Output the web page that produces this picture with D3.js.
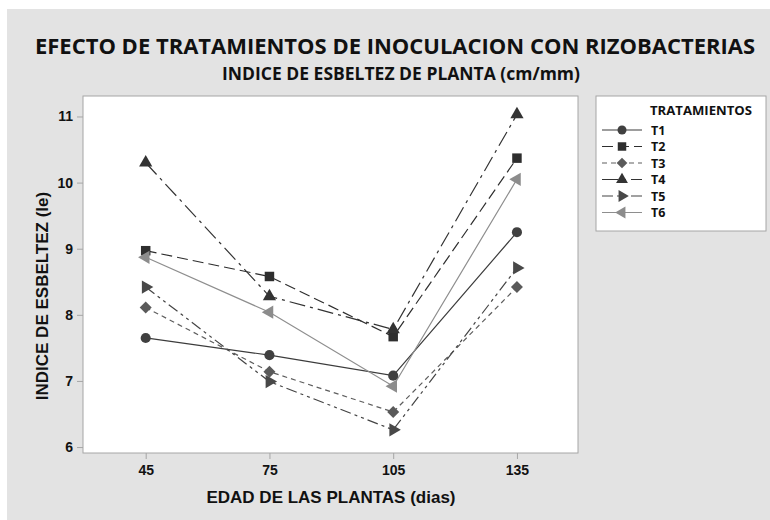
<!DOCTYPE html>
<html>
<head>
<meta charset="utf-8">
<script src="https://cdn.jsdelivr.net/npm/d3@7"></script>
<style>
  body { margin: 0; background: #fff; }
  svg { display: block; }
</style>
</head>
<body>
<div id="chart"></div>
<script>
// chart values
const ages = [45, 75, 105, 135];
const xTicks = [45, 75, 105, 135];
const yTicks = [6, 7, 8, 9, 10, 11];
const seriesNames = ["T1", "T2", "T3", "T4", "T5", "T6"];
const T1 = [7.65, 7.39, 7.08, 9.25];
const T2 = [8.97, 8.58, 7.67, 10.37];
const T3 = [8.11, 7.14, 6.53, 8.42];
const T4 = [10.30, 8.28, 7.78, 11.03];
const T5 = [8.42, 6.99, 6.26, 8.71];
const T6 = [8.87, 8.04, 6.92, 10.05];
const seriesValues = [T1, T2, T3, T4, T5, T6];

const W = 770, H = 520;
const plot = {left: 83, right: 578, top: 96, bottom: 453};

// one look per treatment: colour, dash and marker
const styles = [
  {line: "#3c3c3c", mark: "#404040", dash: null,           sym: d3.symbolCircle,   size: 80, rot: 0},
  {line: "#2e2e2e", mark: "#2e2e2e", dash: "11,5",         sym: d3.symbolSquare,   size: 90, rot: 0},
  {line: "#5e5e5e", mark: "#5a5a5a", dash: "5,4",          sym: d3.symbolSquare,   size: 72, rot: 45},
  {line: "#333333", mark: "#333333", dash: "16,5,3,5",     sym: d3.symbolTriangle, size: 76, rot: 0},
  {line: "#444444", mark: "#484848", dash: "11,4,3,4,3,4", sym: d3.symbolTriangle, size: 76, rot: 90},
  {line: "#8e8e8e", mark: "#8c8c8c", dash: null,           sym: d3.symbolTriangle, size: 76, rot: -90}
];

const svg = d3.select("#chart").append("svg")
  .attr("width", W)
  .attr("height", H);

// gray panel
svg.append("rect")
  .attr("x", 7).attr("y", 9)
  .attr("width", W - 7).attr("height", H - 9)
  .attr("fill", "#e3e3e3");

// titles
svg.append("text")
  .attr("x", 395).attr("y", 54)
  .attr("text-anchor", "middle")
  .attr("font-family", "Open Sans")
  .attr("font-weight", "bold")
  .attr("font-size", 22)
  .attr("textLength", 720)
  .attr("lengthAdjust", "spacingAndGlyphs")
  .attr("fill", "#111")
  .text("EFECTO DE TRATAMIENTOS DE INOCULACION CON RIZOBACTERIAS");

svg.append("text")
  .attr("x", 401).attr("y", 80)
  .attr("text-anchor", "middle")
  .attr("font-family", "Open Sans")
  .attr("font-weight", "bold")
  .attr("font-size", 17)
  .attr("textLength", 358)
  .attr("lengthAdjust", "spacingAndGlyphs")
  .attr("fill", "#111")
  .text("INDICE DE ESBELTEZ DE PLANTA (cm/mm)");

const x = d3.scaleLinear().domain([29.8, 149.8]).range([plot.left, plot.right]);
const y = d3.scaleLinear().domain([5.91, 11.31]).range([plot.bottom, plot.top]);

svg.append("rect")
  .attr("x", plot.left).attr("y", plot.top)
  .attr("width", plot.right - plot.left)
  .attr("height", plot.bottom - plot.top)
  .attr("fill", "#fff")
  .attr("stroke", "#a6a6a6");

// axes
const xAxis = svg.append("g")
  .attr("transform", `translate(0,${plot.bottom})`)
  .call(d3.axisBottom(x).tickValues(xTicks).tickFormat(d3.format("d")).tickSize(6).tickPadding(6));
const yAxis = svg.append("g")
  .attr("transform", `translate(${plot.left},0)`)
  .call(d3.axisLeft(y).tickValues(yTicks).tickFormat(d3.format("d")).tickSize(6).tickPadding(4));

[xAxis, yAxis].forEach(ax => {
  ax.select(".domain").remove();
  ax.selectAll("line").attr("stroke", "#a6a6a6");
  ax.selectAll("text")
    .attr("font-family", "Liberation Sans")
    .attr("font-weight", "bold")
    .attr("font-size", 14)
    .attr("fill", "#111");
});

svg.append("text")
  .attr("x", 331).attr("y", 503)
  .attr("text-anchor", "middle")
  .attr("font-family", "Liberation Sans")
  .attr("font-weight", "bold")
  .attr("font-size", 17)
  .attr("fill", "#111")
  .text("EDAD DE LAS PLANTAS (dias)");

svg.append("text")
  .attr("transform", "translate(48,296) rotate(-90)")
  .attr("text-anchor", "middle")
  .attr("font-family", "Liberation Sans")
  .attr("font-weight", "bold")
  .attr("font-size", 17)
  .attr("fill", "#111")
  .text("INDICE DE ESBELTEZ (Ie)");

// lines and markers
const line = d3.line().x((d, i) => x(ages[i])).y(d => y(d));

seriesValues.forEach((vals, k) => {
  const st = styles[k];
  svg.append("path")
    .attr("d", line(vals))
    .attr("fill", "none")
    .attr("stroke", st.line)
    .attr("stroke-width", 1.2)
    .attr("stroke-dasharray", st.dash);
});

seriesValues.forEach((vals, k) => {
  const st = styles[k];
  svg.selectAll(null)
    .data(vals)
    .join("path")
    .attr("transform", (d, i) => `translate(${x(ages[i])},${y(d)}) rotate(${st.rot})`)
    .attr("d", d3.symbol(st.sym, st.size))
    .attr("fill", st.mark);
});

// legend
const lg = svg.append("g");
lg.append("rect")
  .attr("x", 596).attr("y", 96)
  .attr("width", 170).attr("height", 135)
  .attr("fill", "#fff")
  .attr("stroke", "#a6a6a6");
lg.append("text")
  .attr("x", 650).attr("y", 115)
  .attr("font-family", "Open Sans")
  .attr("font-weight", "bold")
  .attr("font-size", 12.5)
  .attr("textLength", 102)
  .attr("lengthAdjust", "spacingAndGlyphs")
  .attr("fill", "#111")
  .text("TRATAMIENTOS");

seriesNames.forEach((name, k) => {
  const st = styles[k];
  const cy = 130 + k * 16.5;
  lg.append("line")
    .attr("x1", 602).attr("x2", 642)
    .attr("y1", cy).attr("y2", cy)
    .attr("stroke", st.line)
    .attr("stroke-width", 1.2)
    .attr("stroke-dasharray", st.dash);
  lg.append("path")
    .attr("transform", `translate(622,${cy}) rotate(${st.rot})`)
    .attr("d", d3.symbol(st.sym, st.size * 0.8))
    .attr("fill", st.mark);
  lg.append("text")
    .attr("x", 651).attr("y", cy + 4.5)
    .attr("font-family", "Open Sans")
    .attr("font-weight", "bold")
    .attr("font-size", 12.5)
    .attr("fill", "#111")
    .text(name);
});
</script>
</body>
</html>
